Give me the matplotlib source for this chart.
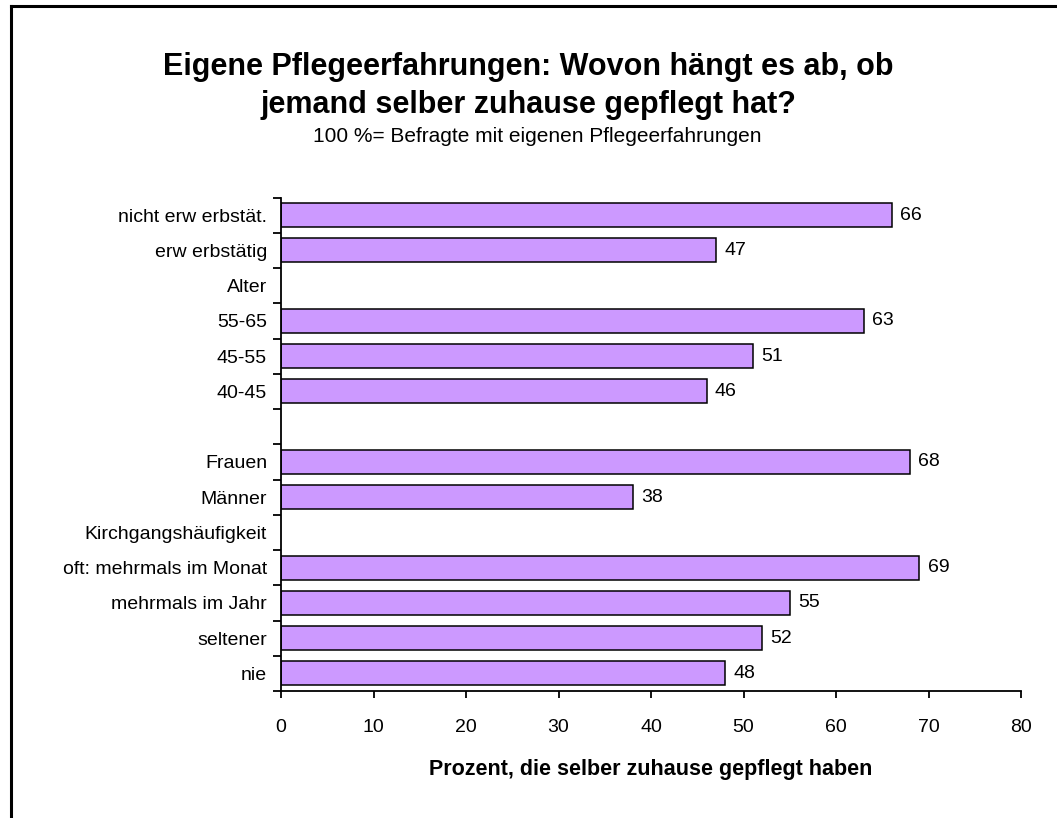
import matplotlib
matplotlib.use("Agg")
import matplotlib.pyplot as plt
from matplotlib.lines import Line2D

plt.rcParams['font.family'] = ['Liberation Sans', 'DejaVu Sans']

# Kategorien von oben nach unten (leere Werte = Zwischenüberschriften)
labels = ["nicht erw erbstät.", "erw erbstätig", "Alter", "55-65", "45-55", "40-45", "",
          "Frauen", "Männer", "Kirchgangshäufigkeit", "oft: mehrmals im Monat",
          "mehrmals im Jahr", "seltener", "nie"]
values = [66, 47, None, 63, 51, 46, None, 68, 38, None, 69, 55, 52, 48]
xticks = [0, 10, 20, 30, 40, 50, 60, 70, 80]

fig = plt.figure(figsize=(10.57, 8.18), dpi=100)
ax = fig.add_axes([281 / 1057, 1 - 691 / 818, 740 / 1057, 493.5 / 818])

for i, v in enumerate(values):
    if v is None:
        continue
    ax.barh(i, v, height=0.68, color="#CC99FF", edgecolor="black", linewidth=1.1)
    ax.text(v + 0.9, i, str(v), va="center", ha="left", fontsize=14)

ax.set_xlim(0, 80)
ax.set_ylim(len(labels) - 0.5, -0.5)
ax.set_xticks(xticks)
ax.set_xticklabels([str(t) for t in xticks], fontsize=14)
ax.set_yticks(range(len(labels)))
ax.set_yticklabels(labels, fontsize=14)
ax.tick_params(axis="y", length=0, pad=10)
ax.set_yticks([i - 0.5 for i in range(len(labels) + 1)], minor=True)
ax.tick_params(axis="y", which="minor", length=6, width=1.3, direction="out")
ax.tick_params(axis="x", length=5, width=1.3, direction="out", pad=15)

for side in ["top", "right"]:
    ax.spines[side].set_visible(False)
for side in ["left", "bottom"]:
    ax.spines[side].set_linewidth(1.3)

ax.set_xlabel("Prozent, die selber zuhause gepflegt haben", fontsize=15.5,
              fontweight="bold", labelpad=17)

fig.text(0.4995, 1 - 67 / 818, "Eigene Pflegeerfahrungen: Wovon hängt es ab, ob",
         ha="center", va="center", fontsize=22, fontweight="bold")
fig.text(0.4995, 1 - 105 / 818, "jemand selber zuhause gepflegt hat?",
         ha="center", va="center", fontsize=22, fontweight="bold")
fig.text(0.5085, 1 - 137 / 818, "100 %= Befragte mit eigenen Pflegeerfahrungen",
         ha="center", va="center", fontsize=15)

# Rahmen links und oben
fig.add_artist(Line2D([10.5 / 1057, 10.5 / 1057], [0, 1 - 6 / 818],
                      transform=fig.transFigure, color="black", linewidth=2.2))
fig.add_artist(Line2D([10.5 / 1057, 1], [1 - 6 / 818, 1 - 6 / 818],
                      transform=fig.transFigure, color="black", linewidth=2.2))

fig.savefig("out.png", dpi=100)
